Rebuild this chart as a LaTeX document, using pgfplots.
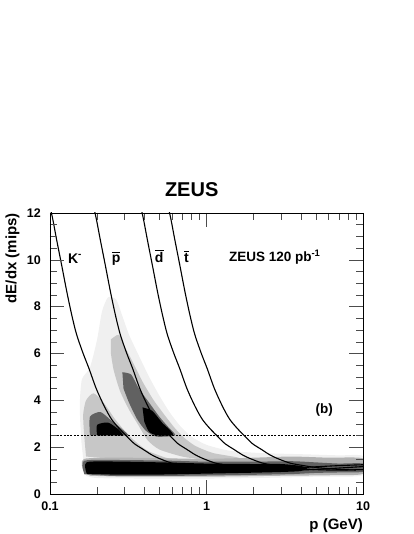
\documentclass[border=0pt]{standalone}
\usepackage{fontspec}
\setmainfont{Liberation Sans}
\usepackage{pgfplots}
\pgfplotsset{compat=1.18}
% bar over a letter (anti-particles)
\newcommand\obar[1]{\leavevmode\setbox0\hbox{#1}\rlap{\rule[\dimexpr\ht0+1.6pt\relax]{\wd0}{1.3pt}}\box0}

\begin{document}
\begin{tikzpicture}[font=\bfseries]
\begin{semilogxaxis}[
  at={(0,0)}, anchor=south west,
  width=313pt, height=281pt, scale only axis,
  xmin=0.1, xmax=10, ymin=0, ymax=12,
  axis on top,
  axis line style={line width=0.8pt},
  xtick={0.1,1,10}, xticklabels={0.1,1,10},
  minor xtick={0.2,0.3,0.4,0.5,0.6,0.7,0.8,0.9,2,3,4,5,6,7,8,9},
  ytick={0,2,4,6,8,10,12}, yticklabels={0,2,4,6,8,10,12},
  minor y tick num=3,
  major tick length=14pt, minor tick length=7pt,
  every tick/.style={line width=0.45pt, black!70},
  /pgf/number format/assume math mode=true,
  xticklabel style={font=\fontsize{12.5}{14}\selectfont\bfseries, inner sep=0pt, anchor=north, yshift=-7.5pt},
  yticklabel style={font=\fontsize{12.5}{14}\selectfont\bfseries, inner sep=0pt, anchor=east, xshift=-9pt},
  title={ZEUS},
  title style={at={(0.4527,1.0356)}, anchor=base, inner sep=0pt, font=\fontsize{20}{24}\selectfont\bfseries},
  xlabel={p (GeV)},
  xlabel style={at={(1,-0.087)}, anchor=north east, inner sep=0pt, font=\fontsize{15}{18}\selectfont\bfseries},
  ylabel={dE/dx (mips)},
  ylabel style={at={(-0.12,1)}, anchor=east, inner sep=0pt, font=\fontsize{15}{18}\selectfont\bfseries},
]
% --- density of tracks: light halo
\addplot[draw=none, fill=black!6, smooth, tension=0.4] coordinates {
  (0.165,1.2) (0.158,2.4) (0.155,3.8) (0.16,4.9) (0.18,5.4) (0.2,6.6) (0.215,7.8) (0.235,8.4)
  (0.265,8.3) (0.29,7.6) (0.32,6.8) (0.37,5.9) (0.43,5.0) (0.5,4.2) (0.58,3.5) (0.68,2.9)
  (0.8,2.45) (1.0,2.1) (1.4,1.85) (2.2,1.75) (4,1.7) (7,1.65) (10,1.62) (10,0.8) (5,0.74)
  (2,0.68) (1,0.66) (0.4,0.66) (0.2,0.68) (0.17,0.78)} -- cycle;
% --- medium density
\addplot[draw=none, fill=black!22, smooth, tension=0.4] coordinates {
  (0.245,6.6) (0.275,6.8) (0.3,6.3) (0.34,5.6) (0.39,4.8) (0.46,4.0) (0.55,3.3) (0.63,2.8)
  (0.72,2.4) (0.85,2.05) (1.1,1.75) (1.6,1.55) (1.6,1.35) (1.0,1.45) (0.7,1.6) (0.5,1.9)
  (0.42,2.3) (0.37,2.9) (0.32,3.6) (0.28,4.4) (0.255,5.3) (0.245,6.0)} -- cycle;
\addplot[draw=none, fill=black!22, smooth, tension=0.4] coordinates {
  (0.17,1.6) (0.165,2.6) (0.163,3.4) (0.17,4.0) (0.19,4.3) (0.22,3.9) (0.26,3.2) (0.3,2.7)
  (0.35,2.25) (0.42,1.85) (0.55,1.55) (0.7,1.4) (0.4,1.4) (0.25,1.5)} -- cycle;
\addplot[draw=none, fill=black!30, smooth, tension=0.4] coordinates {
  (0.163,1.0) (0.165,1.5) (0.3,1.55) (0.6,1.52) (1,1.5) (2,1.55) (3.5,1.6) (6,1.55) (10,1.52)
  (10,0.86) (6,0.8) (3,0.78) (1.5,0.75) (0.7,0.74) (0.3,0.74) (0.18,0.78)} -- cycle;
% --- dense
\addplot[draw=none, fill=black!62, smooth, tension=0.4] coordinates {
  (0.29,5.2) (0.33,5.1) (0.37,4.5) (0.43,3.9) (0.5,3.3) (0.58,2.8) (0.63,2.5) (0.48,2.45)
  (0.41,2.7) (0.36,3.2) (0.32,3.9) (0.295,4.5)} -- cycle;
\addplot[draw=none, fill=black!62, smooth, tension=0.4] coordinates {
  (0.18,2.5) (0.18,3.3) (0.21,3.5) (0.245,3.15) (0.285,2.8) (0.32,2.5)} -- cycle;
\addplot[draw=none, fill=black!62, smooth, tension=0.4] coordinates {
  (0.166,0.84) (0.166,1.42) (0.3,1.45) (0.6,1.42) (1,1.38) (2,1.38) (3.5,1.4) (5,1.35) (7,1.3)
  (10,1.3) (10,0.95) (7,0.92) (5,0.9) (3.5,0.85) (2,0.82) (1,0.79) (0.5,0.77) (0.25,0.77)} -- cycle;
% --- cores
\addplot[draw=none, fill=black, smooth, tension=0.4] coordinates {
  (0.39,3.7) (0.45,3.55) (0.52,3.05) (0.58,2.75) (0.61,2.52) (0.49,2.5) (0.43,2.65) (0.4,3.1)} -- cycle;
\addplot[draw=none, fill=black, smooth, tension=0.4] coordinates {
  (0.2,2.5) (0.2,2.95) (0.235,3.05) (0.275,2.75) (0.295,2.5)} -- cycle;
\addplot[draw=none, fill=black, smooth, tension=0.4] coordinates {
  (0.172,0.86) (0.172,1.36) (0.3,1.38) (0.6,1.34) (1,1.3) (2,1.28) (3,1.28) (4,1.2) (4.4,1.1)
  (4,0.98) (3,0.94) (2,0.91) (1,0.87) (0.5,0.83) (0.25,0.83)} -- cycle;
% --- cut line
\addplot[black, line width=0.8pt, dash pattern=on 2pt off 1.4pt] coordinates {(0.1,2.5) (10,2.5)};
% --- expected dE/dx curves
\addplot[black, line width=1.1pt, smooth, tension=0.5] coordinates {
  (0.0987,12.4) (0.1037,11.8) (0.1103,10.85) (0.1185,9.8) (0.1284,8.6) (0.1382,7.6) (0.1481,6.8)
  (0.1629,6.0) (0.1777,5.35) (0.1975,4.5) (0.2222,3.75) (0.2469,3.2) (0.2765,2.8) (0.3110,2.45)
  (0.3456,2.15) (0.3950,1.9) (0.4443,1.68) (0.4937,1.53) (0.5924,1.33) (0.6912,1.24) (0.8393,1.15)
  (0.9874,1.10) (1.234,1.05) (1.481,1.03) (1.728,1.02) (2.222,1.03) (2.962,1.07) (3.950,1.12)
  (4.937,1.16) (6.912,1.21) (10.02,1.25)};
\addplot[black, line width=1.1pt, smooth, tension=0.5] coordinates {
  (0.1877,12.4) (0.1970,11.8) (0.2097,10.85) (0.2252,9.8) (0.2440,8.6) (0.2627,7.6) (0.2815,6.8)
  (0.3096,6.0) (0.3378,5.35) (0.3753,4.5) (0.4222,3.75) (0.4692,3.2) (0.5254,2.8) (0.5911,2.45)
  (0.6568,2.15) (0.7506,1.9) (0.8445,1.68) (0.9383,1.53) (1.126,1.33) (1.314,1.24) (1.595,1.15)
  (1.877,1.10) (2.346,1.05) (2.815,1.03) (3.284,1.02) (4.222,1.03) (5.630,1.07) (7.506,1.12)
  (9.383,1.16) (10.04,1.17)};
\addplot[black, line width=1.1pt, smooth, tension=0.5] coordinates {
  (0.3751,12.4) (0.3939,11.8) (0.4192,10.85) (0.4501,9.8) (0.4877,8.6) (0.5252,7.6) (0.5627,6.8)
  (0.6189,6.0) (0.6752,5.35) (0.7502,4.5) (0.8440,3.75) (0.9378,3.2) (1.050,2.8) (1.182,2.45)
  (1.313,2.15) (1.500,1.9) (1.688,1.68) (1.876,1.53) (2.251,1.33) (2.626,1.24) (3.189,1.15)
  (3.751,1.10) (4.689,1.05) (5.627,1.03) (6.565,1.02) (8.440,1.03) (10.03,1.045)};
\addplot[black, line width=1.1pt, smooth, tension=0.5] coordinates {
  (0.5618,12.4) (0.5899,11.8) (0.6278,10.85) (0.6741,9.8) (0.7303,8.6) (0.7865,7.6) (0.8427,6.8)
  (0.9269,6.0) (1.011,5.35) (1.124,4.5) (1.264,3.75) (1.404,3.2) (1.573,2.8) (1.770,2.45)
  (1.966,2.15) (2.247,1.9) (2.528,1.68) (2.809,1.53) (3.371,1.33) (3.932,1.24) (4.775,1.15)
  (5.618,1.10) (7.022,1.05) (8.427,1.03) (10.0,1.02)};
% --- labels
\node[anchor=base, font=\fontsize{14}{16}\selectfont\bfseries] at (axis cs:0.1444,9.86) {K\textsuperscript{-}};
\node[anchor=base, font=\fontsize{14}{16}\selectfont\bfseries] at (axis cs:0.2647,9.88) {\obar{p}};
\node[anchor=base, font=\fontsize{14}{16}\selectfont\bfseries] at (axis cs:0.4988,9.88) {\obar{d}};
\node[anchor=base, font=\fontsize{14}{16}\selectfont\bfseries] at (axis cs:0.7437,9.88) {\obar{t}};
\node[anchor=base, font=\fontsize{13.5}{16}\selectfont\bfseries] at (axis cs:2.73,9.93) {ZEUS 120 pb\textsuperscript{-1}};
\node[anchor=base, font=\fontsize{13.5}{16}\selectfont\bfseries] at (axis cs:5.65,3.45) {(b)};
\end{semilogxaxis}
\path (-50pt,-40pt) rectangle (363pt,494pt);
\end{tikzpicture}
\end{document}
